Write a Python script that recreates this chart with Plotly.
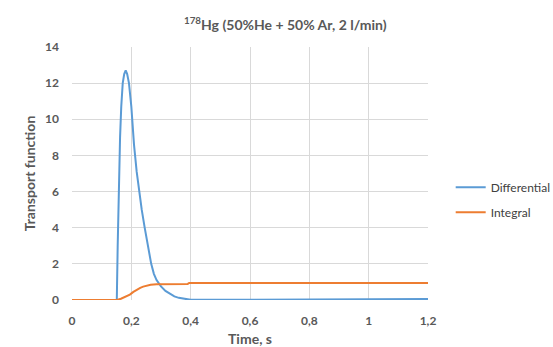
import plotly.graph_objects as go

# Time axis (s) and transport functions for 178Hg
t_diff = [0.0, 0.05, 0.1, 0.148, 0.151, 0.154, 0.158, 0.162, 0.166, 0.171, 0.176, 0.181,
          0.186, 0.192, 0.2, 0.209, 0.218, 0.226, 0.235, 0.245, 0.256, 0.267, 0.276, 0.285,
          0.3, 0.315, 0.33, 0.345, 0.36, 0.38, 0.4, 0.5, 0.6, 0.7, 0.8, 0.9, 1.0, 1.005,
          1.1, 1.2]
differential = [0.0, 0.0, 0.0, 0.0, 0.0, 3.0, 6.7, 9.0, 10.7, 12.0, 12.5, 12.7,
                 12.5, 12.0, 10.7, 8.6, 7.1, 6.0, 5.0, 4.0, 2.9, 2.0, 1.45, 1.1,
                 0.75, 0.5, 0.35, 0.2, 0.12, 0.05, 0.01, 0.01, 0.01, 0.01, 0.01, 0.01, 0.01, 0.05,
                 0.05, 0.05]

t_int = [0.0, 0.05, 0.1, 0.152, 0.165, 0.18, 0.195, 0.207, 0.218, 0.23, 0.24, 0.252,
         0.265, 0.285, 0.31, 0.35, 0.39, 0.395, 0.6, 0.8, 1.0, 1.2]
integral = [0.0, 0.0, 0.0, 0.0, 0.07, 0.18, 0.3, 0.45, 0.57, 0.67, 0.74, 0.8,
            0.84, 0.87, 0.88, 0.89, 0.89, 0.94, 0.94, 0.94, 0.94, 0.94]

x_ticks = [0, 0.2, 0.4, 0.6, 0.8, 1.0, 1.2]
y_ticks = [0, 2, 4, 6, 8, 10, 12, 14]

FONT = "Lato"
GREY = "#595959"
GRID = "#d9d9d9"

fig = go.Figure()
fig.add_trace(go.Scatter(x=t_diff, y=differential, mode="lines", name="Differential",
                         legendgroup="d", line=dict(color="#5b9bd5", width=2)))
fig.add_trace(go.Scatter(x=t_int, y=integral, mode="lines", name="Integral",
                         legendgroup="i", line=dict(color="#ed7d31", width=2)))

fig.update_layout(
    width=553, height=347,
    margin=dict(l=72, r=125, t=47, b=47),
    plot_bgcolor="white", paper_bgcolor="white",
    separators=",.",
    font=dict(family=FONT, color=GREY, size=12),
    showlegend=True,
    legend=dict(xref="container", yref="container", x=0.815, y=0.424,
                xanchor="left", yanchor="middle", traceorder="grouped",
                tracegroupgap=6, itemwidth=30,
                font=dict(family=FONT, size=12, color="#404040")),
    annotations=[dict(text="<sup>178</sup>Hg (50%He + 50% Ar, 2 l/min)",
                      xref="paper", yref="paper", x=0.601, y=1.0, yshift=24,
                      xanchor="center", yanchor="middle", showarrow=False,
                      font=dict(family=FONT, size=14, color=GREY, weight="bold"))],
)
fig.update_xaxes(range=[0, 1.2], tickvals=x_ticks, showgrid=True, gridcolor=GRID,
                 gridwidth=1, zeroline=False, showline=False, ticks="",
                 automargin=False, ticklabelstandoff=12,
                 tickfont=dict(family=FONT, size=12, color=GREY, weight="bold"),
                 title=dict(text="Time, s", standoff=8,
                            font=dict(family=FONT, size=14, color=GREY, weight="bold")))
fig.update_yaxes(range=[0, 14], tickvals=y_ticks, showgrid=True, gridcolor=GRID,
                 gridwidth=1, zeroline=False, showline=False, ticks="",
                 automargin=False, ticklabelstandoff=12,
                 tickfont=dict(family=FONT, size=12, color=GREY, weight="bold"),
                 title=dict(text="Transport function", standoff=6,
                            font=dict(family=FONT, size=14, color=GREY, weight="bold")))

fig.write_html("out.html")
